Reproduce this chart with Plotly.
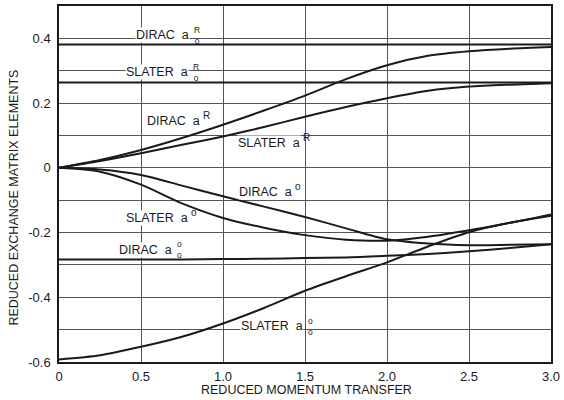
import plotly.graph_objects as go

# ---------------- data ----------------
x_transfer = [0, 0.25, 0.5, 0.75, 1.0, 1.25, 1.5, 1.75, 2.0, 2.25, 2.5, 2.75, 3.0]

dirac_a0R = [0.381] * 13
slater_a0R = [0.264] * 13
dirac_aR = [0, 0.024, 0.055, 0.092, 0.133, 0.177, 0.223, 0.274, 0.317, 0.346, 0.360, 0.368, 0.373]
slater_aR = [0, 0.021, 0.045, 0.071, 0.097, 0.126, 0.158, 0.188, 0.215, 0.238, 0.251, 0.257, 0.261]
dirac_ao = [0, -0.005, -0.022, -0.055, -0.088, -0.120, -0.152, -0.187, -0.221, -0.234, -0.239, -0.238, -0.236]
slater_ao = [0, -0.012, -0.052, -0.110, -0.155, -0.185, -0.208, -0.222, -0.225, -0.213, -0.193, -0.170, -0.144]
dirac_a0o = [-0.283, -0.283, -0.283, -0.283, -0.282, -0.281, -0.279, -0.277, -0.272, -0.266, -0.258, -0.248, -0.236]
slater_a0o = [-0.592, -0.579, -0.553, -0.522, -0.481, -0.433, -0.380, -0.335, -0.292, -0.243, -0.199, -0.170, -0.148]

series = [dirac_a0R, slater_a0R, dirac_aR, slater_aR, dirac_ao, slater_ao, dirac_a0o, slater_a0o]

x_ticks = [0, 0.5, 1.0, 1.5, 2.0, 2.5, 3.0]
x_ticktext = ["0", "0.5", "1.0", "1.5", "2.0", "2.5", "3.0"]
y_ticks = [-0.6, -0.5, -0.4, -0.3, -0.2, -0.1, 0, 0.1, 0.2, 0.3, 0.4]
y_ticktext = ["-0.6", "", "-0.4", "", "-0.2", "", "0", "", "0.2", "", "0.4"]

x_title = "REDUCED MOMENTUM TRANSFER"
y_title = "REDUCED EXCHANGE MATRIX ELEMENTS"

# label text: (main text, right edge x, y center, superscript, stacked subscript)
labels = [
    ("DIRAC  a", 0.80, 0.409, "R", "o"),
    ("SLATER  a", 0.795, 0.295, "R", "o"),
    ("DIRAC  a", 0.865, 0.145, "R", None),
    ("SLATER  a", 1.475, 0.076, "R", None),
    ("DIRAC  a", 1.425, -0.076, "o", None),
    ("SLATER  a", 0.79, -0.155, "o", None),
    ("DIRAC  a", 0.695, -0.253, "o", "o"),
    ("SLATER  a", 1.495, -0.490, "o", "o"),
]

FONT = "Liberation Sans, Arial, sans-serif"
INK = "#1a1a1a"

fig = go.Figure()
for ys in series:
    fig.add_trace(go.Scatter(
        x=x_transfer, y=ys, mode="lines",
        line=dict(color=INK, width=2, shape="spline", smoothing=0.8),
        showlegend=False, hoverinfo="skip"))

for text, xr, yc, sup, sub in labels:
    fig.add_annotation(x=xr, y=yc, xref="x", yref="y",
                       text=text, showarrow=False, xanchor="right", yanchor="middle",
                       font=dict(family=FONT, size=12.5, color=INK), bgcolor="white", borderpad=0)
    if sub is None:
        fig.add_annotation(x=xr + 0.006, y=yc + 0.018, xref="x", yref="y",
                           text=sup, showarrow=False, xanchor="left", yanchor="middle",
                           font=dict(family=FONT, size=10, color=INK), borderpad=0)
    else:
        fig.add_annotation(x=xr + 0.018, y=yc, xref="x", yref="y",
                           text=sup + "<br>" + sub, showarrow=False, xanchor="left", yanchor="middle",
                           font=dict(family=FONT, size=8.5, color=INK), borderpad=0)

fig.add_annotation(x=0.504, y=-0.080, xref="paper", yref="paper", text=x_title,
                   showarrow=False, xanchor="center", yanchor="middle",
                   font=dict(family=FONT, size=12.5, color=INK))
fig.add_annotation(x=-0.092, y=0.461, xref="paper", yref="paper", text=y_title,
                   showarrow=False, xanchor="center", yanchor="middle", textangle=-90,
                   font=dict(family=FONT, size=12.5, color=INK))

fig.update_xaxes(range=[0, 3.0], tickvals=x_ticks, ticktext=x_ticktext,
                 showgrid=True, gridcolor="#555", gridwidth=1, zeroline=False,
                 showline=True, mirror=True, linecolor=INK, linewidth=1.5,
                 ticks="", ticklabelstandoff=2,
                 tickfont=dict(family=FONT, size=13, color=INK))
fig.update_yaxes(range=[-0.6, 0.5], tickvals=y_ticks, ticktext=y_ticktext,
                 showgrid=True, gridcolor="#555", gridwidth=1, zeroline=False,
                 showline=True, mirror=True, linecolor=INK, linewidth=1.5,
                 ticks="", ticklabelstandoff=4,
                 tickfont=dict(family=FONT, size=13, color=INK))

fig.update_layout(width=564, height=400, margin=dict(l=59, r=12, t=4, b=38),
                  paper_bgcolor="white", plot_bgcolor="white")

fig.write_html("out.html")
